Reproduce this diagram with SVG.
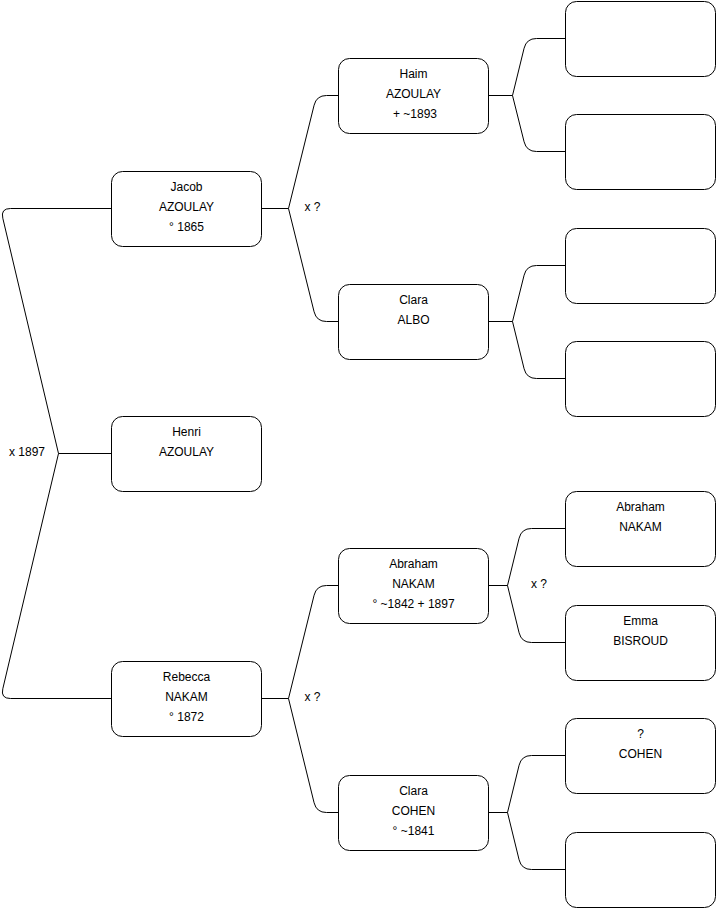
<svg xmlns="http://www.w3.org/2000/svg" width="716" height="908" viewBox="0 0 716 908">
<style>
.box{fill:#fff;stroke:#000;stroke-width:1}
.edge{fill:none;stroke:#000;stroke-width:1}
text{font-family:"Liberation Sans",Arial,Helvetica,sans-serif;font-size:12px;fill:#000;text-anchor:middle}
</style>
<rect width="716" height="908" fill="#fff"/>
<g id="connectors">
<path class="edge" d="M111.5 208.5 L10.5 208.5 Q0.5 208.5 2.8 218.2 L58.5 453.5 L111.5 453.5"/>
<path class="edge" d="M58.5 453.5 L2.8 688.8 Q0.5 698.5 10.5 698.5 L111.5 698.5"/>
<path class="edge" d="M261.5 208.5 L288.5 208.5 L314.1 105.2 Q316.5 95.5 326.5 95.5 L338.5 95.5"/>
<path class="edge" d="M288.5 208.5 L314.1 311.8 Q316.5 321.5 326.5 321.5 L338.5 321.5"/>
<path class="edge" d="M261.5 698.5 L288.5 698.5 L314.1 595.2 Q316.5 585.5 326.5 585.5 L338.5 585.5"/>
<path class="edge" d="M288.5 698.5 L314.1 802.8 Q316.5 812.5 326.5 812.5 L338.5 812.5"/>
<path class="edge" d="M488.5 95.5 L512.5 95.5 L524.1 48.2 Q526.5 38.5 536.5 38.5 L565.5 38.5"/>
<path class="edge" d="M512.5 95.5 L524.1 141.8 Q526.5 151.5 536.5 151.5 L565.5 151.5"/>
<path class="edge" d="M488.5 321.5 L512.5 321.5 L524.1 275.2 Q526.5 265.5 536.5 265.5 L565.5 265.5"/>
<path class="edge" d="M512.5 321.5 L524.1 368.8 Q526.5 378.5 536.5 378.5 L565.5 378.5"/>
<path class="edge" d="M488.5 585.5 L507.5 585.5 L519.1 538.2 Q521.5 528.5 531.5 528.5 L565.5 528.5"/>
<path class="edge" d="M507.5 585.5 L519.1 632.8 Q521.5 642.5 531.5 642.5 L565.5 642.5"/>
<path class="edge" d="M488.5 812.5 L507.5 812.5 L519.1 765.2 Q521.5 755.5 531.5 755.5 L565.5 755.5"/>
<path class="edge" d="M507.5 812.5 L519.1 859.8 Q521.5 869.5 531.5 869.5 L565.5 869.5"/>
<text x="27" y="456">x 1897</text>
<text x="312.5" y="211">x ?</text>
<text x="312.5" y="701">x ?</text>
<text x="539" y="588">x ?</text>
</g>
<g id="jacob"><rect class="box" x="111.5" y="171.5" width="150" height="75" rx="11"/>
<text x="186.5" y="191">Jacob</text><text x="186.5" y="211">AZOULAY</text><text x="186.5" y="231">° 1865</text></g>
<g id="henri"><rect class="box" x="111.5" y="416.5" width="150" height="75" rx="11"/>
<text x="186.5" y="436">Henri</text><text x="186.5" y="456">AZOULAY</text></g>
<g id="rebecca"><rect class="box" x="111.5" y="661.5" width="150" height="75" rx="11"/>
<text x="186.5" y="681">Rebecca</text><text x="186.5" y="701">NAKAM</text><text x="186.5" y="721">° 1872</text></g>
<g id="haim"><rect class="box" x="338.5" y="58.5" width="150" height="75" rx="11"/>
<text x="413.5" y="78">Haim</text><text x="413.5" y="98">AZOULAY</text><text x="415" y="118">+ ~1893</text></g>
<g id="clara-albo"><rect class="box" x="338.5" y="284.5" width="150" height="75" rx="11"/>
<text x="413.5" y="304">Clara</text><text x="413.5" y="324">ALBO</text></g>
<g id="abraham"><rect class="box" x="338.5" y="548.5" width="150" height="75" rx="11"/>
<text x="413.5" y="568">Abraham</text><text x="413.5" y="588">NAKAM</text><text x="413.5" y="608">° ~1842 + 1897</text></g>
<g id="clara-cohen"><rect class="box" x="338.5" y="775.5" width="150" height="75" rx="11"/>
<text x="413.5" y="795">Clara</text><text x="413.5" y="815">COHEN</text><text x="413.5" y="835">° ~1841</text></g>
<g id="p1"><rect class="box" x="565.5" y="1.5" width="150" height="75" rx="11"/></g>
<g id="p2"><rect class="box" x="565.5" y="114.5" width="150" height="75" rx="11"/></g>
<g id="p3"><rect class="box" x="565.5" y="228.5" width="150" height="75" rx="11"/></g>
<g id="p4"><rect class="box" x="565.5" y="341.5" width="150" height="75" rx="11"/></g>
<g id="abraham-sr"><rect class="box" x="565.5" y="491.5" width="150" height="75" rx="11"/>
<text x="640.5" y="511">Abraham</text><text x="640.5" y="531">NAKAM</text></g>
<g id="emma"><rect class="box" x="565.5" y="605.5" width="150" height="75" rx="11"/>
<text x="640.5" y="625">Emma</text><text x="640.5" y="645">BISROUD</text></g>
<g id="cohen"><rect class="box" x="565.5" y="718.5" width="150" height="75" rx="11"/>
<text x="640.5" y="738">?</text><text x="640.5" y="758">COHEN</text></g>
<g id="p8"><rect class="box" x="565.5" y="832.5" width="150" height="75" rx="11"/></g>
</svg>
